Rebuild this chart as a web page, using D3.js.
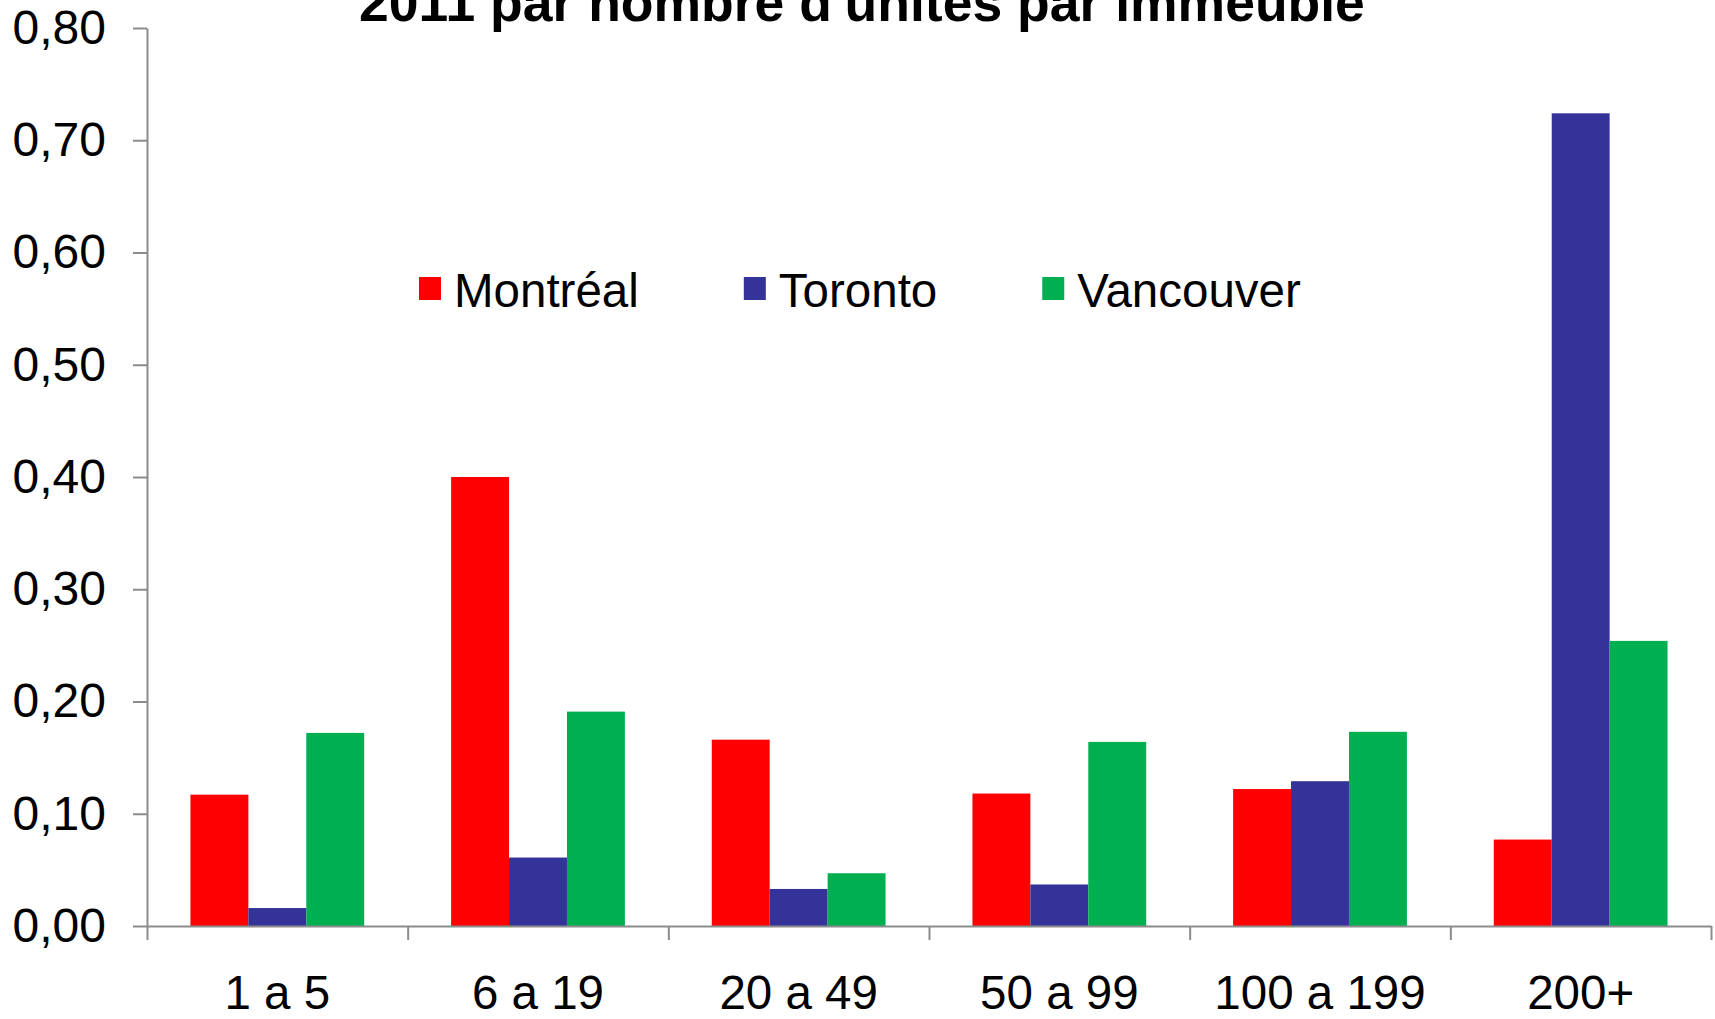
<!DOCTYPE html>
<html>
<head>
<meta charset="utf-8">
<script src="https://cdn.jsdelivr.net/npm/d3@7"></script>
<style>
  body { margin: 0; background: #fff; }
  svg { display: block; font-family: "Liberation Sans", Arial, sans-serif; }
  .axis path, .axis line { stroke: #8c8c8c; stroke-width: 2px; }
  .axis text { fill: #000; }
</style>
</head>
<body>
<script>
const CATEGORIES = ['1 a 5', '6 a 19', '20 a 49', '50 a 99', '100 a 199', '200+']
const SERIES = ['Montréal', 'Toronto', 'Vancouver']
const COLORS = ['#ff0000', '#333399', '#00b050']
const MONTREAL = [0.117, 0.400, 0.166, 0.118, 0.122, 0.077]
const TORONTO = [0.016, 0.061, 0.033, 0.037, 0.129, 0.724]
const VANCOUVER = [0.172, 0.191, 0.047, 0.164, 0.173, 0.254]
const Y_TICKS = [0, 0.1, 0.2, 0.3, 0.4, 0.5, 0.6, 0.7, 0.8]
const TITLE = "2011 par nombre d'unités par immeuble"

const VALUES = [MONTREAL, TORONTO, VANCOUVER]

const W = 1715, H = 1019
const plotLeft = 147, plotRight = 1711, plotTop = 28, plotBottom = 926

const svg = d3.select('body').append('svg')
    .attr('width', W)
    .attr('height', H)

const y = d3.scaleLinear().domain([0, 0.8]).range([plotBottom, plotTop])
const x0 = d3.scaleBand().domain(CATEGORIES).range([plotLeft, plotRight])
const x1 = d3.scaleBand().domain(SERIES).range([0, x0.bandwidth()])
    .paddingInner(0).paddingOuter(0.75)
const xb = d3.scaleLinear().domain([0, CATEGORIES.length]).range([plotLeft, plotRight])

const comma = d3.formatLocale({ decimal: ',', thousands: ' ', grouping: [3], currency: ['', ''] })

// bars
const rows = CATEGORIES.map((c, i) => SERIES.map((s, j) => ({ cat: c, series: s, value: VALUES[j][i], color: COLORS[j] })))

svg.append('g')
    .selectAll('g')
    .data(rows)
    .join('g')
        .attr('transform', (d, i) => `translate(${x0(CATEGORIES[i])},0)`)
    .selectAll('rect')
    .data(d => d)
    .join('rect')
        .attr('x', d => x1(d.series))
        .attr('width', x1.bandwidth())
        .attr('y', d => y(d.value))
        .attr('height', d => y(0) - y(d.value))
        .attr('fill', d => d.color)

// y axis
svg.append('g')
    .attr('class', 'axis')
    .attr('transform', `translate(${plotLeft},0)`)
    .call(d3.axisLeft(y).tickValues(Y_TICKS).tickFormat(comma.format('.2f')).tickSize(14).tickSizeOuter(0).tickPadding(27))
    .call(g => g.selectAll('text').attr('font-size', 48))

// x axis: boundary ticks
svg.append('g')
    .attr('class', 'axis')
    .attr('transform', `translate(0,${plotBottom})`)
    .call(d3.axisBottom(xb).tickValues(d3.range(CATEGORIES.length + 1)).tickFormat('').tickSize(14).tickSizeOuter(0))

// x labels
svg.append('g')
    .attr('transform', `translate(0,${plotBottom})`)
    .call(d3.axisBottom(x0).tickSize(0).tickPadding(0))
    .call(g => g.select('.domain').remove())
    .call(g => g.selectAll('text')
        .attr('y', 83)
        .attr('dy', 0)
        .attr('font-size', 47.5)
        .attr('fill', '#000'))

// title (upper line is outside the picture)
svg.append('text')
    .attr('x', 862)
    .attr('y', 21)
    .attr('text-anchor', 'middle')
    .attr('font-size', 53.5)
    .attr('font-weight', 'bold')
    .text(TITLE)

// legend
const legend = svg.append('g').attr('transform', 'translate(419,0)')
let lx = 0
SERIES.forEach((s, i) => {
    const g = legend.append('g').attr('transform', `translate(${lx},0)`)
    g.append('rect')
        .attr('x', 0).attr('y', 277)
        .attr('width', 22).attr('height', 23)
        .attr('fill', COLORS[i])
    const t = g.append('text')
        .attr('x', 35).attr('y', 307)
        .attr('font-size', 47.5)
        .text(s)
    lx += 35 + t.node().getComputedTextLength() + 105
})
</script>
</body>
</html>
